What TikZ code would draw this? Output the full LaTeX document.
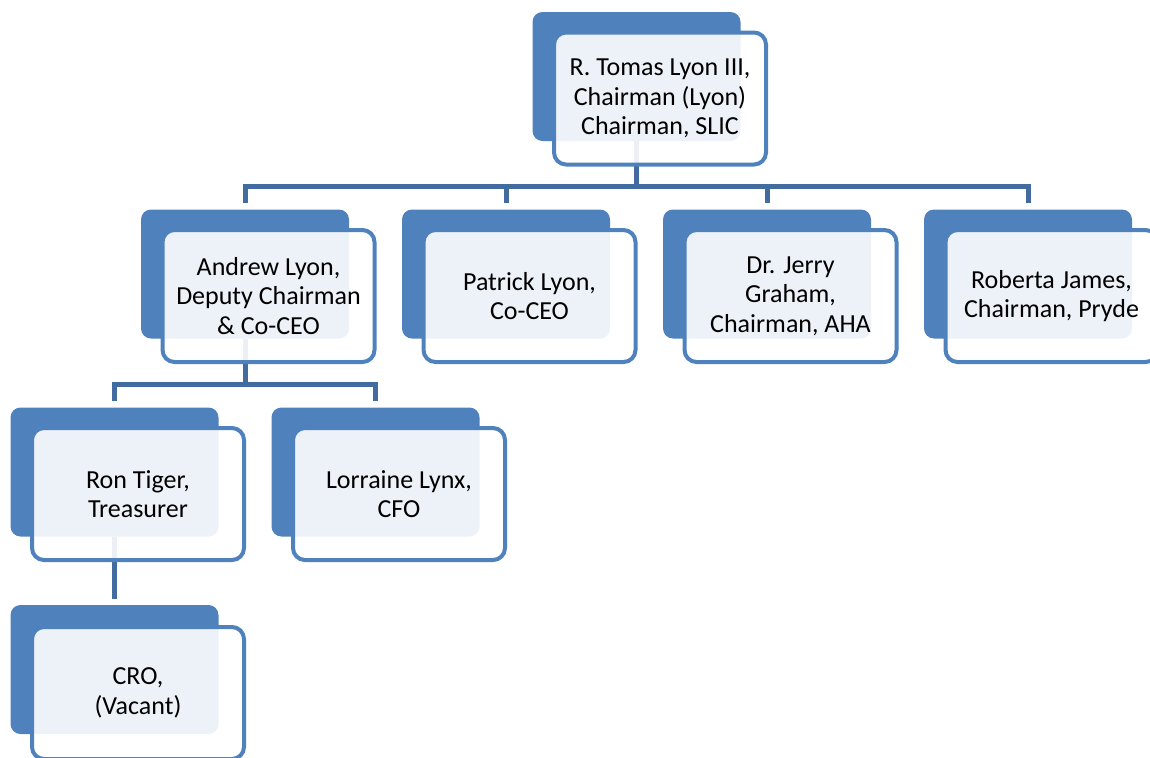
\documentclass[tikz,border=0pt]{standalone}
\usepackage{fontspec}
\setmainfont{Carlito}
\definecolor{accent}{HTML}{4F81BD}
\definecolor{linkcol}{HTML}{426CA0}
\begin{document}
\begin{tikzpicture}[x=0.5pt,y=-0.5pt,
  backbox/.style={fill=accent, draw=none, rounded corners=5pt, minimum width=104pt, minimum height=64.5pt, inner sep=0pt},
  frontbox/.style={draw=accent, line width=2pt, fill=white, fill opacity=0.9, text opacity=1, rounded corners=6pt, minimum width=106pt, minimum height=66pt, inner sep=2pt, align=center, font=\fontsize{13}{14.75}\selectfont},
  link/.style={draw=linkcol, line width=2.5pt}]
\clip (0,0) rectangle (1150,757);
\useasboundingbox (0,0) rectangle (1150,757);
% back boxes
\node[backbox] (topB) at (636.5,76.5) {};
\node[backbox] (andB) at (245,274) {};
\node[backbox] (patB) at (506,274) {};
\node[backbox] (jerB) at (767,274) {};
\node[backbox] (robB) at (1028,274) {};
\node[backbox] (ronB) at (114.5,472) {};
\node[backbox] (lorB) at (375.5,472) {};
\node[backbox] (croB) at (114.5,669.5) {};
% connectors
\coordinate (h1) at (0,186.5);
\coordinate (h2) at (0,384.5);
\foreach \c in {andB,patB,jerB,robB}
  \draw[link, shorten >=3pt] (topB.south) -- (topB.south |- h1) -| (\c.north);
\foreach \c in {ronB,lorB}
  \draw[link, shorten >=3pt] (andB.south) -- (andB.south |- h2) -| (\c.north);
\draw[link, shorten >=3pt] (ronB.south) -- (croB.north);
% front boxes
\node[frontbox] (top) at (660,98.5) {R. Tomas Lyon III,\\Chairman (Lyon)\\Chairman, SLIC};
\node[frontbox] (and) at (268.5,296) {Andrew Lyon,\\Deputy Chairman\\\& Co-CEO};
\node[frontbox] (pat) at (529.5,296) {Patrick Lyon,\\Co-CEO};
\node[frontbox] (jer) at (790.5,296) {Dr. Jerry\\Graham,\\Chairman, AHA};
\node[frontbox] (rob) at (1051.5,296) {Roberta James,\\Chairman, Pryde};
\node[frontbox] (ron) at (138,494) {Ron Tiger,\\Treasurer};
\node[frontbox] (lor) at (399,494) {Lorraine Lynx,\\CFO};
\node[frontbox] (cro) at (138,693) {CRO,\\(Vacant)};
\end{tikzpicture}
\end{document}
